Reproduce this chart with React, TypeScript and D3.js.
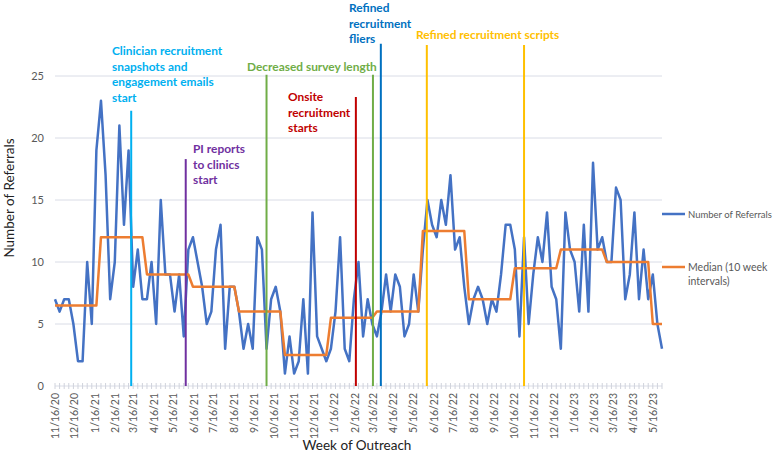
import React from "react";
import * as d3 from "d3";

// ---- Data ----
const startDate = "2020-11-16";
const referrals = [
  7, 6, 7, 7, 5, 2, 2, 10, 5, 19,
  23, 17, 7, 10, 21, 13, 19, 8, 11, 7,
  7, 10, 5, 15, 9, 9, 6, 9, 4, 11,
  12, 10, 8, 5, 6, 11, 13, 3, 8, 8,
  6, 3, 5, 3, 12, 11, 3, 7, 8, 6,
  1, 4, 1, 2, 7, 1, 14, 4, 3, 2,
  3, 6, 12, 3, 2, 7, 10, 4, 7, 5,
  4, 6, 9, 6, 9, 8, 4, 5, 9, 6,
  11, 15, 13, 12, 15, 13, 17, 11, 12, 8,
  5, 7, 8, 7, 5, 7, 6, 9, 13, 13,
  11, 4, 12, 5, 9, 12, 10, 14, 8, 7,
  3, 14, 11, 10, 6, 13, 6, 18, 11, 12,
  10, 10, 16, 15, 7, 9, 14, 7, 11, 7,
  9, 5, 3,
];
// medians of each consecutive 10-week interval
const intervalMedians = [6.5, 12, 9, 8, 6, 2.5, 5.5, 6, 12.5, 7, 9.5, 11, 10, 5];
const intervalLength = 10;

const eventDates = [
  "2021-03-12", "2021-06-03", "2021-10-04", "2022-02-17",
  "2022-03-15", "2022-03-27", "2022-06-05", "2022-10-31",
];
const eventTops = [22.2, 18.3, 25.1, 23.3, 25.1, 27.6, 27.5, 27.5];
const eventColors = ["#00B0F0", "#7030A0", "#70AD47", "#C00000", "#70AD47", "#0070C0", "#FFC000", "#FFC000"];

const yTicks = [0, 5, 10, 15, 20, 25];
const seriesNames = ["Number of Referrals", "Median (10 week", "intervals)"];

const W = 778, H = 453;
const FONT = "Lato, 'Open Sans', sans-serif";

export default function App() {
  const parse = d3.utcParse("%Y-%m-%d");
  const start = parse(startDate)!;
  const dates = referrals.map((_, i) => d3.utcDay.offset(start, 7 * i));
  const end = dates[dates.length - 1];

  const x = d3.scaleUtc().domain([start, end]).range([55, 662]);
  const y = d3.scaleLinear().domain([0, 25]).range([386, 76]);

  const points = referrals.map((v, i) => ({ d: dates[i], v }));
  const medians = referrals.map((_, i) => ({ d: dates[i], v: intervalMedians[Math.floor(i / intervalLength)] }));

  const line = d3.line<{ d: Date; v: number }>().x((p) => x(p.d)).y((p) => y(p.v));

  const monthTicks = d3.utcMonth.every(1)!
    .range(d3.utcDay.offset(start, -20), d3.utcDay.offset(end, 1))
    .map((m) => d3.utcDay.offset(m, 15))
    .filter((t) => t >= start && t <= end);
  const fmt = d3.utcFormat("%-m/%-d/%y");

  const events = eventDates.map((ds, i) => ({ d: parse(ds)!, top: eventTops[i], color: eventColors[i] }));

  const annot = (lines: string[], x0: number, y0: number, color: string, key: string) => (
    <text key={key} x={x0} y={y0} fill={color} fontFamily={FONT} fontWeight={700} fontSize={11.9}>
      {lines.map((l, i) => (
        <tspan key={i} x={x0} dy={i === 0 ? 0 : 15.5}>{l}</tspan>
      ))}
    </text>
  );

  return (
    <svg width={W} height={H} style={{ position: "absolute", left: 0, top: 0, background: "#fff" }}>
      {/* gridlines */}
      {yTicks.map((t) => (
        <g key={t}>
          <line x1={55} x2={662} y1={y(t)} y2={y(t)} stroke="#D9DCE6" strokeWidth={1} />
          <text x={44} y={y(t) + 4} textAnchor="end" fontFamily={FONT} fontSize={11} fill="#595959">{t}</text>
        </g>
      ))}
      {/* minor ticks */}
      {dates.map((d, i) => (
        <line key={i} x1={x(d)} x2={x(d)} y1={383} y2={389} stroke="#D0D3DC" strokeWidth={1} />
      ))}
      {/* x labels */}
      {monthTicks.map((t, i) => (
        <text key={i} transform={`translate(${x(t) + 3.5},${393}) rotate(-90)`} textAnchor="end"
          fontFamily={FONT} fontSize={10.5} fill="#595959">{fmt(t)}</text>
      ))}
      {/* data lines */}
      <path d={line(points)!} fill="none" stroke="#4472C4" strokeWidth={2.5} strokeLinejoin="round" />
      <path d={line(medians)!} fill="none" stroke="#ED7D31" strokeWidth={2.5} strokeLinejoin="round" />
      {/* event lines */}
      {events.map((e, i) => (
        <line key={i} x1={x(e.d)} x2={x(e.d)} y1={y(0)} y2={y(e.top)} stroke={e.color} strokeWidth={2} />
      ))}
      {/* annotations */}
      {annot(["Clinician recruitment", "snapshots and", "engagement emails", "start"], 112, 55, "#00B0F0", "a1")}
      {annot(["PI reports", "to clinics", "start"], 193, 153, "#7030A0", "a2")}
      {annot(["Decreased survey length"], 247, 71, "#70AD47", "a3")}
      {annot(["Onsite", "recruitment", "starts"], 288, 101, "#C00000", "a4")}
      {annot(["Refined", "recruitment", "fliers"], 349, 12, "#0070C0", "a5")}
      {annot(["Refined recruitment scripts"], 416, 39, "#FFC000", "a6")}
      {/* axis titles */}
      <text transform={`translate(14,198) rotate(-90)`} textAnchor="middle" fontFamily={FONT} fontSize={13.5} fill="#222">Number of Referrals</text>
      <text x={357} y={450} textAnchor="middle" fontFamily={FONT} fontSize={13.5} fill="#222">Week of Outreach</text>
      {/* legend */}
      <line x1={662} x2={685} y1={214} y2={214} stroke="#4472C4" strokeWidth={2.5} />
      <text x={688} y={217.5} fontFamily={FONT} fontSize={9.5} fill="#595959">{seriesNames[0]}</text>
      <line x1={662} x2={685} y1={267} y2={267} stroke="#ED7D31" strokeWidth={2.5} />
      <text x={688} y={271} fontFamily={FONT} fontSize={10.5} fill="#595959">{seriesNames[1]}</text>
      <text x={688} y={285} fontFamily={FONT} fontSize={10.5} fill="#595959">{seriesNames[2]}</text>
    </svg>
  );
}
